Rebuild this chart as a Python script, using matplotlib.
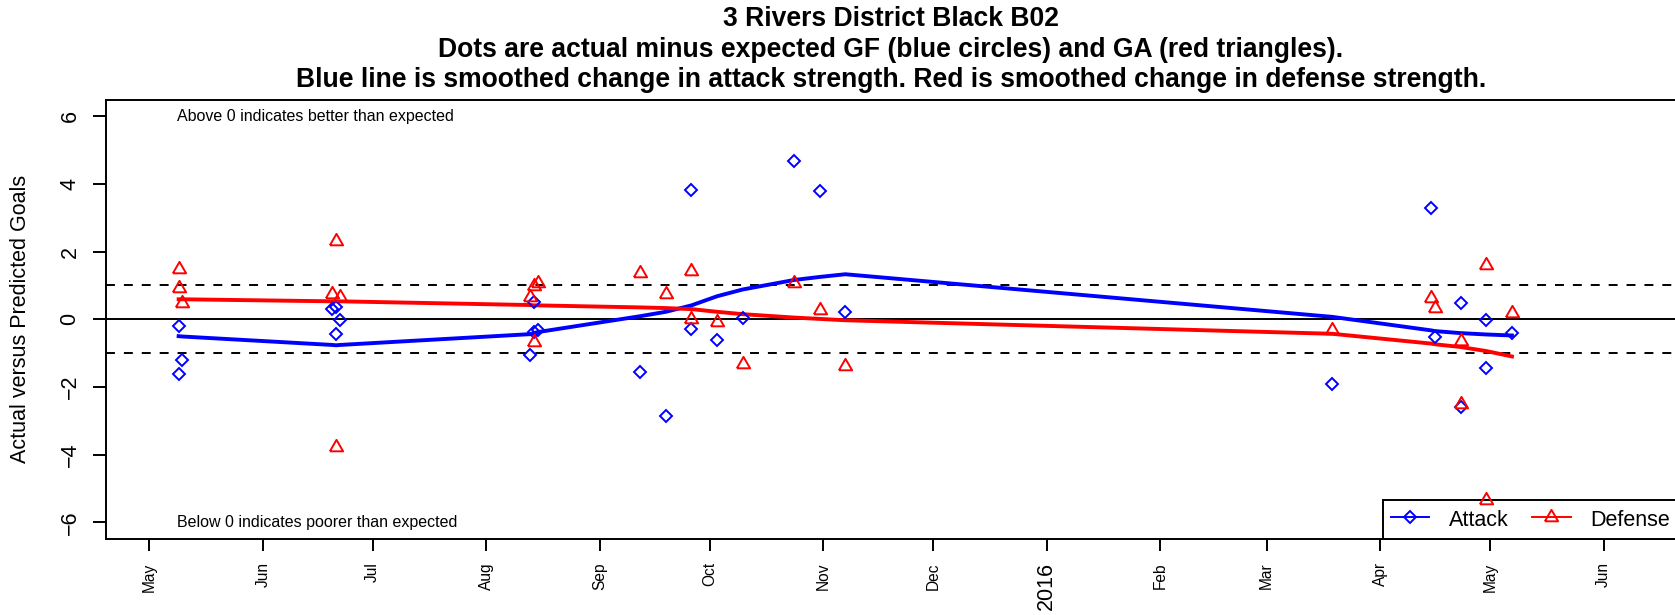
"""
Attack / defense performance chart for 3 Rivers District Black B02.
Actual minus expected goals per match plus smoothed strength trends.
"""

import matplotlib
matplotlib.use("Agg")
import matplotlib.pyplot as plt
from matplotlib.lines import Line2D
import pandas as pd

plt.rcParams["font.family"] = ["Liberation Sans", "DejaVu Sans"]

# One entry per match: date, actual-minus-expected goals for (attack) and against (defense)
match_dates = [
    "2015-05-09", "2015-05-09", "2015-05-10",
    "2015-06-20", "2015-06-21", "2015-06-21", "2015-06-22",
    "2015-08-13", "2015-08-14", "2015-08-14", "2015-08-15",
    "2015-09-12", "2015-09-19", "2015-09-26", "2015-09-26",
    "2015-10-03", "2015-10-10", "2015-10-24", "2015-10-31", "2015-11-07",
    "2016-03-19", "2016-04-15", "2016-04-16", "2016-04-23", "2016-04-23",
    "2016-04-30", "2016-04-30", "2016-05-07",
]
attack_diff = [
    -0.21, -1.63, -1.20,
    0.30, 0.37, -0.45, -0.03,
    -1.05, 0.51, -0.38, -0.31,
    -1.56, -2.85, 3.81, -0.30,
    -0.62, 0.04, 4.69, 3.80, 0.20,
    -1.91, 3.28, -0.52, 0.48, -2.60,
    -0.03, -1.43, -0.41,
]
defense_diff = [
    1.48, 0.91, 0.47,
    0.76, 2.31, -3.77, 0.66,
    0.66, 0.98, -0.67, 1.06,
    1.37, 0.74, 1.43, 0.02,
    -0.08, -1.32, 1.08, 0.27, -1.37,
    -0.31, 0.64, 0.32, -0.64, -2.50,
    1.60, -5.35, 0.19,
]

# Smoothed trend, one value per match day
trend_dates = [
    "2015-05-09", "2015-05-10", "2015-06-20", "2015-06-21", "2015-06-22",
    "2015-08-13", "2015-08-14", "2015-08-15", "2015-09-12", "2015-09-19",
    "2015-09-26", "2015-10-03", "2015-10-10", "2015-10-24", "2015-10-31",
    "2015-11-07", "2016-03-19", "2016-04-15", "2016-04-16", "2016-04-23",
    "2016-04-30", "2016-05-07",
]
attack_smooth = [
    -0.50, -0.51, -0.76, -0.77, -0.76,
    -0.44, -0.41, -0.38, 0.09, 0.22,
    0.41, 0.68, 0.88, 1.16, 1.25,
    1.33, 0.07, -0.33, -0.35, -0.41,
    -0.45, -0.48,
]
defense_smooth = [
    0.59, 0.59, 0.53, 0.53, 0.53,
    0.42, 0.41, 0.41, 0.35, 0.33,
    0.30, 0.22, 0.15, 0.05, 0.01,
    -0.03, -0.43, -0.72, -0.74, -0.82,
    -0.94, -1.10,
]

tick_dates = pd.date_range("2015-05-01", "2016-06-01", freq="MS")
tick_labels = ["May", "Jun", "Jul", "Aug", "Sep", "Oct", "Nov", "Dec",
               "2016", "Feb", "Mar", "Apr", "May", "Jun"]
y_ticks = [-6, -4, -2, 0, 2, 4, 6]

title_lines = [
    "3 Rivers District Black B02",
    "Dots are actual minus expected GF (blue circles) and GA (red triangles).",
    "Blue line is smoothed change in attack strength. Red is smoothed change in defense strength.",
]

BASE = 15.5
TRI = [(-1.0, -0.577), (1.0, -0.577), (0.0, 1.155), (-1.0, -0.577)]
DIA_MS = 6.3
TRI_MS = 11


def main():
    fig = plt.figure(figsize=(16.75, 6.15), dpi=100)
    ax = fig.add_axes([106 / 1675, 1 - 538.5 / 615, 1570 / 1675, 438.5 / 615])

    m_dates = pd.to_datetime(match_dates)
    t_dates = pd.to_datetime(trend_dates)

    # reference lines
    ax.axhline(0, color="black", lw=1.4, zorder=1)
    for lvl in (1, -1):
        ax.axhline(lvl, color="black", lw=1.4, dashes=(4.6, 4.6), zorder=1)

    # smoothed trends
    ax.plot(t_dates, attack_smooth, color="blue", lw=2.8, zorder=3)
    ax.plot(t_dates, defense_smooth, color="red", lw=2.8, zorder=3)

    # per-match points
    ax.plot(m_dates, attack_diff, ls="none", marker="D", ms=DIA_MS, mfc="none",
            mec="blue", mew=1.4, zorder=4)
    ax.plot(m_dates, defense_diff, ls="none", marker=TRI, ms=TRI_MS, mfc="none",
            mec="red", mew=1.4, zorder=4)

    # notes
    note_x = m_dates[0] - pd.Timedelta(hours=12)
    ax.text(note_x, 6, "Above 0 indicates better than expected",
            ha="left", va="center", fontsize=11.5)
    ax.text(note_x, -6, "Below 0 indicates poorer than expected",
            ha="left", va="center", fontsize=11.5)

    # axes
    ax.set_xlim(pd.Timestamp("2015-04-19 04:00"), pd.Timestamp("2016-06-20 19:00"))
    ax.set_ylim(-6.48, 6.48)
    ax.set_xticks(tick_dates, tick_labels)
    ax.set_yticks(y_ticks)
    ax.tick_params(axis="x", direction="out", length=8.6, width=1.4, pad=8.5,
                   labelsize=11.2, labelrotation=90)
    ax.tick_params(axis="y", direction="out", length=9.4, width=1.4, pad=9,
                   labelsize=BASE)
    for lbl in ax.get_yticklabels():
        lbl.set_rotation(90)
        lbl.set_va("center")
    for lbl in ax.get_xticklabels():
        if lbl.get_text() == "2016":
            lbl.set_fontsize(BASE)
    for side in ("left", "top", "bottom"):
        ax.spines[side].set_linewidth(1.4)
    ax.spines["right"].set_visible(False)

    ax.set_ylabel("Actual versus Predicted Goals", fontsize=BASE, va="center")
    ax.yaxis.set_label_coords((20 - 106) / 1570, 0.5)

    # legend
    handles = [
        Line2D([], [], color="blue", lw=1.4, marker="D", ms=DIA_MS, mfc="none", mew=1.4),
        Line2D([], [], color="red", lw=1.4, marker=TRI, ms=TRI_MS, mfc="none", mew=1.4),
    ]
    leg = ax.legend(handles, ["Attack", "Defense"], loc="lower left",
                    bbox_to_anchor=((1383 - 106) / 1570, 0), borderaxespad=0,
                    ncol=2, fontsize=BASE, handlelength=1.8, handletextpad=0.9,
                    handleheight=1.25, columnspacing=1.1, borderpad=0.35,
                    fancybox=False, framealpha=1, edgecolor="black")
    leg.get_frame().set_linewidth(1.4)
    leg.set_zorder(2.5)

    # title
    cx = (106 + 1676) / 2 / 1675
    for text, ypx in zip(title_lines, (19, 50, 80)):
        fig.text(cx, 1 - ypx / 615, text, ha="center", va="center",
                 fontsize=19.1, fontweight="bold")

    fig.savefig("out.png", dpi=100)


if __name__ == "__main__":
    main()
